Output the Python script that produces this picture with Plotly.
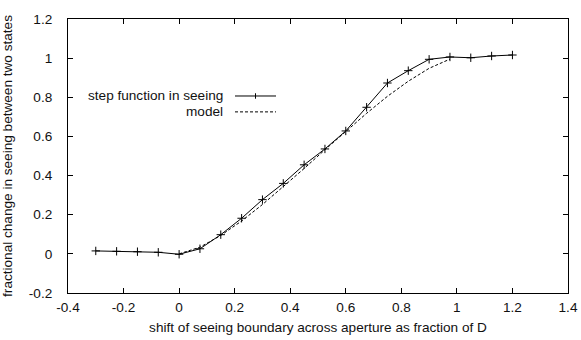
import plotly.graph_objects as go

# measured curve: step function in seeing
step_x = [-0.3, -0.225, -0.15, -0.075, 0.0, 0.075, 0.15, 0.225, 0.3, 0.375, 0.45,
          0.525, 0.6, 0.675, 0.75, 0.825, 0.9, 0.975, 1.05, 1.125, 1.2]
step_y = [0.015, 0.013, 0.011, 0.008, -0.002, 0.026, 0.098, 0.182, 0.277, 0.36, 0.455,
          0.536, 0.628, 0.749, 0.873, 0.936, 0.994, 1.006, 1.002, 1.011, 1.016]

# model curve
model_x = [0.0, 0.075, 0.15, 0.225, 0.3, 0.375, 0.45, 0.525, 0.6, 0.675, 0.75, 0.825, 0.9, 0.975]
model_y = [0.0, 0.034, 0.094, 0.168, 0.252, 0.343, 0.436, 0.532, 0.625, 0.718, 0.805, 0.882, 0.948, 0.995]

xticks = [-0.4, -0.2, 0, 0.2, 0.4, 0.6, 0.8, 1, 1.2, 1.4]
xlabels = ["-0.4", "-0.2", "0", "0.2", "0.4", "0.6", "0.8", "1", "1.2", "1.4"]
yticks = [-0.2, 0, 0.2, 0.4, 0.6, 0.8, 1, 1.2]
ylabels = ["-0.2", "0", "0.2", "0.4", "0.6", "0.8", "1", "1.2"]

font = dict(family="Liberation Sans, Arial, sans-serif", size=13.6, color="#111")

fig = go.Figure()
fig.add_trace(go.Scatter(x=step_x, y=step_y, mode="lines+markers", name="step function in seeing",
                         line=dict(color="#000", width=1),
                         marker=dict(symbol="cross-thin", size=6, line=dict(color="#000", width=1))))
fig.add_trace(go.Scatter(x=model_x, y=model_y, mode="lines", name="model",
                         line=dict(color="#000", width=1, dash="3px,2px")))

# gnuplot-style key: right-aligned text, sample on the right
fig.add_annotation(xref="paper", yref="paper", x=0.314, y=0.719, xanchor="right", yanchor="middle",
                   text="step function in seeing", showarrow=False, font=font)
fig.add_annotation(xref="paper", yref="paper", x=0.314, y=0.661, xanchor="right", yanchor="middle",
                   text="model", showarrow=False, font=font)
fig.add_shape(type="line", xref="paper", yref="paper", x0=0.334, x1=0.416, y0=0.719, y1=0.719,
              line=dict(color="#000", width=1))
fig.add_shape(type="line", xref="paper", yref="paper", x0=0.375, x1=0.375, y0=0.709, y1=0.729,
              line=dict(color="#000", width=1))
fig.add_shape(type="line", xref="paper", yref="paper", x0=0.334, x1=0.416, y0=0.661, y1=0.661,
              line=dict(color="#000", width=1, dash="3px,2px"))

axis = dict(showline=True, mirror="allticks", linecolor="#000", linewidth=1, ticks="inside",
            ticklen=5, tickcolor="#000", showgrid=False, zeroline=False, tickfont=font,
            automargin=False)
fig.update_xaxes(range=[-0.4, 1.4], tickvals=xticks, ticktext=xlabels,
                 title=dict(text="shift of seeing boundary across aperture as fraction of D",
                            font=font, standoff=8), ticklabelstandoff=2, **axis)
fig.update_yaxes(range=[-0.2, 1.2], tickvals=yticks, ticktext=ylabels,
                 title=dict(text="fractional change in seeing between two states",
                            font=font, standoff=14), ticklabelstandoff=12, **axis)

fig.update_layout(width=581, height=340, margin=dict(l=68, r=13, t=19, b=47),
                  plot_bgcolor="#fff", paper_bgcolor="#fff", showlegend=False, font=font)
fig.write_html("out.html", config={"displayModeBar": False},
               post_script="document.body.style.margin='0';")
